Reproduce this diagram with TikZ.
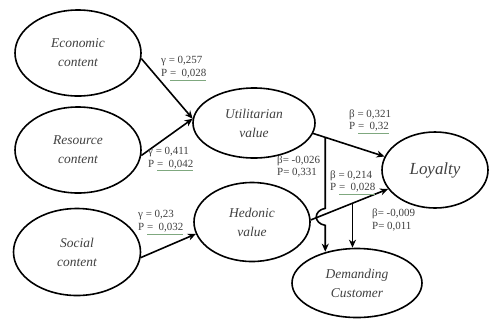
\documentclass[tikz,border=0pt]{standalone}
\usepackage{fontspec}
\setmainfont{Liberation Serif}
\usetikzlibrary{shapes.geometric,arrows.meta,calc}
\definecolor{txt}{HTML}{404040}
\definecolor{ulg}{HTML}{7FA87F}
\newcommand{\gul}[1]{\textcolor{ulg}{\underline{\textcolor{txt}{#1}}}}
\begin{document}
\begin{tikzpicture}[x=1bp,y=-1bp,
  ell/.style={ellipse, draw=black, line width=1.6bp, inner sep=0pt, align=center,
    text=txt, font=\itshape\fontsize{13.5}{19}\selectfont},
  arr/.style={line width=1.6bp, -{Stealth[length=8bp,width=7bp,inset=2.5bp]}},
  lab/.style={font=\fontsize{11}{12.8}\selectfont, text=txt, inner sep=0pt, align=left, anchor=west}]
\useasboundingbox (0,0) rectangle (490,320);
\fill[white] (0,0) rectangle (490,320);

\node[ell, minimum width=126bp, minimum height=86bp] (eco) at (78,53) {Economic\\content};
\node[ell, minimum width=126bp, minimum height=86bp] (res) at (78,150) {Resource\\content};
\node[ell, minimum width=127bp, minimum height=87bp] (soc) at (77,252) {Social\\content};
\node[ell, minimum width=122bp, minimum height=70bp] (util) at (254,123) {Utilitarian\\value};
\node[ell, minimum width=116bp, minimum height=79bp] (hed) at (252,222) {Hedonic\\value};
\node[ell, minimum width=106bp, minimum height=76bp, font=\itshape\fontsize{17}{20}\selectfont] (loy) at (435,170) {Loyalty};
\node[ell, minimum width=130bp, minimum height=69bp] (dem) at (357,283) {Demanding\\Customer};

\draw[arr] (eco.-5) -- (util.176);
\draw[arr] (res.-5) -- (util.176);
\draw[arr] (soc.-5) -- (hed.192);
\draw[arr] (util.-10) -- (loy.165);
\draw[arr] (hed.2) -- (loy.202);

\coordinate (b1) at ($(util.-10)!0.17!(loy.165)$);
\coordinate (b2) at ($(hed.2)!0.54!(loy.202)$);
\coordinate (h1) at ($(b1)+(0,71)$);
\coordinate (h2) at ($(b1)+(0,88)$);
\draw[arr] (b1) -- (h1) .. controls ($(h1)+(-12,2)$) and ($(h2)+(-12,-2)$) .. (h2) -- (b1 |- dem.134);
\draw[arr] (b2) -- (b2 |- dem.north);

\node[lab] (l1) at (161,68.5) {γ = 0,257\\P \gul{= \ 0,028}};
\node[lab] (l2) at (148,159) {γ = 0,411\\P \gul{= \ 0,042}};
\node[lab] (l3) at (138,222.5) {γ = 0,23\\P \gul{= \ 0,032}};
\node[lab] (l4) at (349,121.5) {β = 0,321\\P \gul{= \ 0,32}};
\node[lab] (l5) at (277,166.5) {β= -0,026\\P= 0,331};
\node[lab] (l6) at (330,182.5) {β = 0,214\\P \gul{= \ 0,028}};
\node[lab] (l7) at (372,220) {β= -0,009\\P= 0,011};
\end{tikzpicture}
\end{document}
